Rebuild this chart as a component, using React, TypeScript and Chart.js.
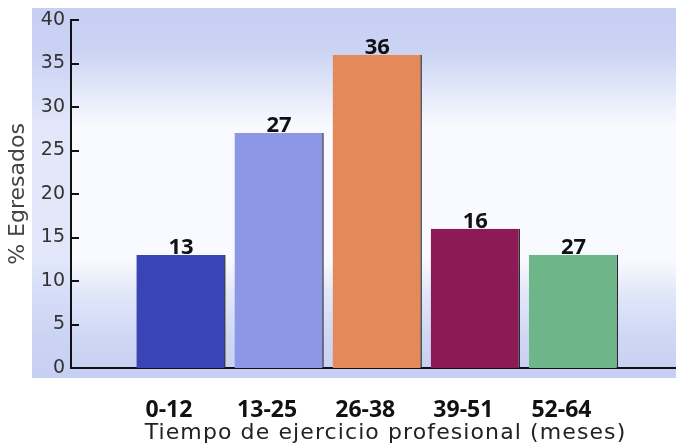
import React, { useEffect, useRef } from "react";
import { Chart, registerables } from "chart.js";

Chart.register(...registerables);

const categories = ["0-12", "13-25", "26-38", "39-51", "52-64"];
const values = [13, 27, 36, 16, 13];
const barLabels = ["13", "27", "36", "16", "27"];
const barColors = ["#3a45b5", "#8c98e6", "#e3895a", "#8b1a55", "#6eb58a"];
const yTicks = [0, 5, 10, 15, 20, 25, 30, 35, 40];
const yTitle = "% Egresados";
const xTitle = "Tiempo de ejercicio profesional (meses)";

const BOLD_FONT = "'Open Sans', 'DejaVu Sans', sans-serif";
const REG_FONT = "'DejaVu Sans', 'Open Sans', sans-serif";

const backgroundPlugin = {
  id: "bgPanel",
  beforeDraw(chart: any) {
    const { ctx, chartArea } = chart;
    const left = chartArea.left - 39;
    const right = chart.width;
    const top = chartArea.top - 12;
    const bottom = chartArea.bottom + 10;
    ctx.save();
    const g = ctx.createLinearGradient(0, top, 0, bottom);
    g.addColorStop(0, "#c6cff3");
    g.addColorStop(0.12, "#ccd4f4");
    g.addColorStop(0.22, "#e2e7f9");
    g.addColorStop(0.32, "#f9faff");
    g.addColorStop(0.68, "#f9faff");
    g.addColorStop(0.77, "#e2e7f9");
    g.addColorStop(0.88, "#d0d8f5");
    g.addColorStop(1, "#c6cff2");
    ctx.fillStyle = g;
    ctx.fillRect(left, top, right - left, bottom - top);
    ctx.fillStyle = "rgba(200,209,243,0.45)";
    ctx.fillRect(left, top, chartArea.left - left, bottom - top);
    ctx.restore();
  },
};

const overlayPlugin = {
  id: "overlay",
  afterDraw(chart: any) {
    const { ctx, chartArea } = chart;
    const yScale = chart.scales.y;
    const xScale = chart.scales.x;
    ctx.save();
    ctx.strokeStyle = "#111";
    ctx.lineWidth = 2;
    yTicks.forEach((v) => {
      const y = Math.round(yScale.getPixelForValue(v));
      ctx.beginPath();
      ctx.moveTo(chartArea.left, y);
      ctx.lineTo(chartArea.left + 8, y);
      ctx.stroke();
    });
    const meta = chart.getDatasetMeta(0);
    ctx.fillStyle = "#111";
    ctx.font = `bold 22px ${BOLD_FONT}`;
    ctx.textAlign = "center";
    ctx.textBaseline = "alphabetic";
    meta.data.forEach((el: any, i: number) => {
      ctx.fillText(barLabels[i], el.x, el.y - 1);
    });
    // x-axis title with slight letter spacing
    ctx.font = `22px ${REG_FONT}`;
    ctx.fillStyle = "#222";
    (ctx as any).letterSpacing = "1.1px";
    ctx.textAlign = "center";
    ctx.textBaseline = "middle";
    ctx.fillText(xTitle, (xScale.left + xScale.right) / 2 + 12, xScale.bottom - 13);
    ctx.restore();
  },
};

export default function App() {
  const ref = useRef<HTMLCanvasElement | null>(null);

  useEffect(() => {
    if (!ref.current) return;
    const chart = new Chart(ref.current, {
      type: "bar",
      data: {
        datasets: [
          {
            data: values.map((v, i) => ({ x: i + 1, y: v })),
            backgroundColor: barColors,
            borderColor: "#2a2a2a",
            borderWidth: { top: 0, right: 1.5, bottom: 0, left: 0 },
            borderSkipped: false,
            categoryPercentage: 1,
            barPercentage: 0.91,
          } as any,
        ],
      },
      options: {
        responsive: false,
        animation: false,
        layout: { padding: { top: 20, right: 0, left: 0, bottom: 0 } },
        plugins: {
          legend: { display: false },
          tooltip: { enabled: false },
        },
        scales: {
          x: {
            type: "linear",
            min: -0.121,
            max: 6.045,
            offset: false,
            grid: { display: false, drawTicks: false, offset: false },
            border: { display: true, color: "#111", width: 2 },
            afterBuildTicks: (s: any) => {
              s.ticks = categories.map((_, i) => ({ value: i + 1 }));
            },
            ticks: {
              autoSkip: false,
              maxRotation: 0,
              padding: 29,
              labelOffset: -12,
              color: "#111",
              font: { family: BOLD_FONT, size: 23, weight: "bold" },
              callback: (v: any) => categories[Number(v) - 1] ?? "",
            },
            title: { display: false },
            afterFit: (s: any) => {
              s.height = 78;
            },
          },
          y: {
            min: 0,
            max: 40,
            afterBuildTicks: (s: any) => {
              s.ticks = yTicks.map((v) => ({ value: v }));
            },
            grid: { display: false, drawTicks: false },
            border: { display: true, color: "#111", width: 2 },
            ticks: {
              padding: 6,
              color: "#333",
              font: { family: REG_FONT, size: 19 },
            },
            title: {
              display: true,
              text: yTitle,
              color: "#444",
              font: { family: REG_FONT, size: 22 },
              padding: { top: 5, bottom: 0 },
            },
            afterFit: (s: any) => {
              s.width = 71;
            },
          },
        },
      } as any,
      plugins: [backgroundPlugin, overlayPlugin],
    });
    return () => chart.destroy();
  }, []);

  return (
    <div style={{ position: "absolute", left: 0, top: 0, width: 676, height: 446 }}>
      <canvas ref={ref} width={676} height={446} />
    </div>
  );
}
